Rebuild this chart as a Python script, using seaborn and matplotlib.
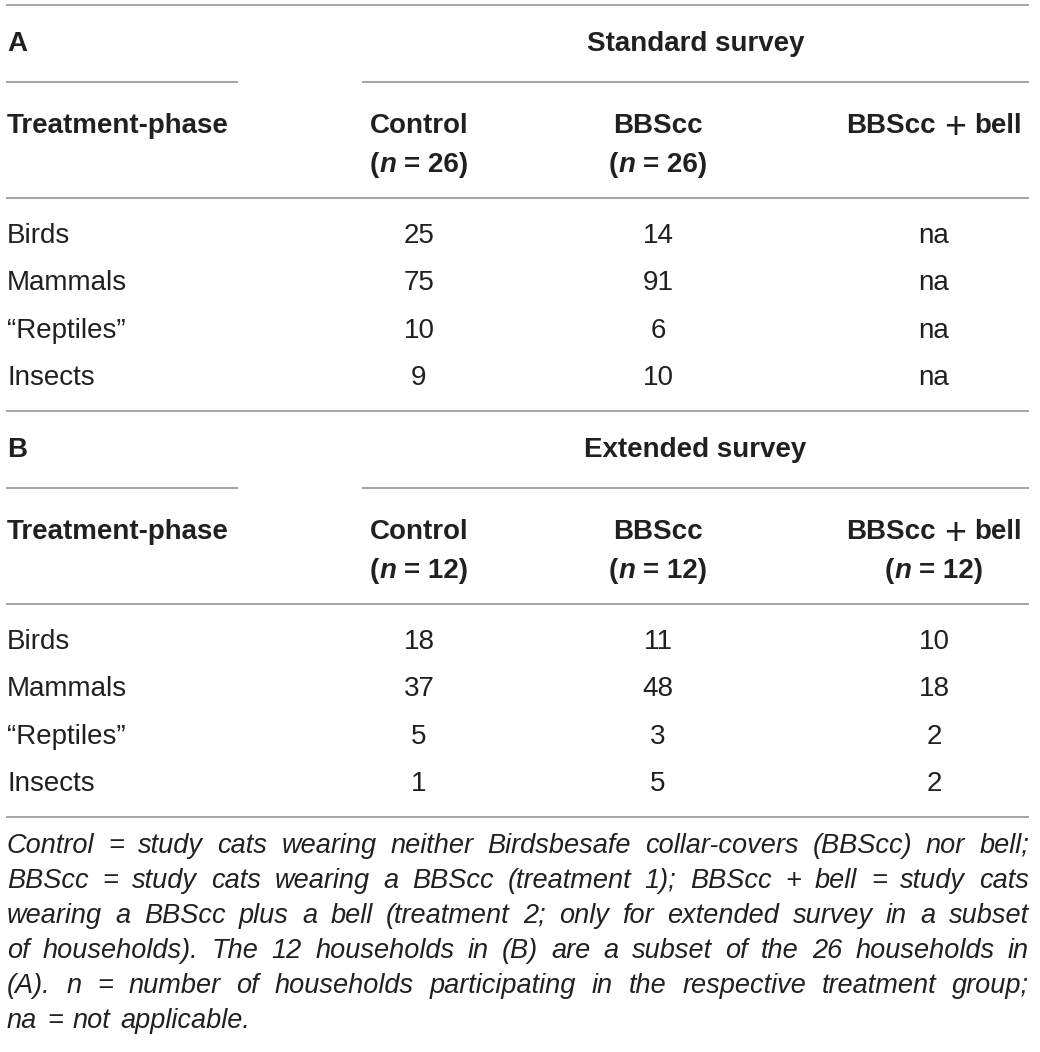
import matplotlib
matplotlib.use("Agg")
import matplotlib.pyplot as plt
import seaborn as sns

sns.set_theme(style="white")
plt.rcParams["font.family"] = ["Liberation Sans", "DejaVu Sans"]

# table content
categories = ["Birds", "Mammals", "\u201cReptiles\u201d", "Insects"]
groups = ["Control", "BBScc", "BBScc + bell"]

standard_title = "Standard survey"
standard_n = [26, 26, None]
standard_control = [25, 75, 10, 9]
standard_bbscc = [14, 91, 6, 10]
standard_bell = ["na", "na", "na", "na"]

extended_title = "Extended survey"
extended_n = [12, 12, 12]
extended_control = [18, 37, 5, 1]
extended_bbscc = [11, 48, 3, 5]
extended_bell = [10, 18, 2, 2]

footnote = [
    "Control = study cats wearing neither Birdsbesafe collar-covers (BBScc) nor bell;",
    "BBScc = study cats wearing a BBScc (treatment 1); BBScc + bell = study cats",
    "wearing a BBScc plus a bell (treatment 2; only for extended survey in a subset",
    "of households). The 12 households in (B) are a subset of the 26 households in",
    "(A). n = number of households participating in the respective treatment group;",
    "na = not applicable.",
]

INK = "#231f20"
RULE = "#8c8c8c"
FS = 20
FN = 19.5
LEFT, RIGHT = 7, 1029
col_x = [419, 658, 934]

fig = plt.figure(figsize=(10.4, 10.52), dpi=100)
ax = fig.add_axes([0, 0, 1, 1])
ax.set_xlim(0, 1040)
ax.set_ylim(1052, 0)
ax.axis("off")
renderer = fig.canvas.get_renderer()


def measure(s, **kw):
    t = ax.text(0, 0, s, **kw)
    w = t.get_window_extent(renderer).width
    t.remove()
    return w


def mixed(x, y, parts, size=FS):
    # parts: (text, style dict, size, dy); None means a space
    sp = measure("a a", fontsize=size, fontweight="bold") - measure("aa", fontsize=size, fontweight="bold")
    widths = [sp if p is None else measure(p[0], fontsize=p[2], **p[1]) for p in parts]
    x0 = x - sum(widths) / 2
    for p, w in zip(parts, widths):
        if p is not None:
            ax.text(x0, y + p[3], p[0], fontsize=p[2], color=INK, ha="left", va="baseline", **p[1])
        x0 += w


B = dict(fontweight="bold")
BI = dict(fontweight="bold", style="italic")
N = dict(fontweight="normal")


def group_label(x, y, name):
    if "+" in name:
        a, b = name.split(" + ")
        mixed(x, y, [(a, B, FS, 0), None, ("+", N, 27, 5), None, (b, B, FS, 0)])
    else:
        ax.text(x, y, name, fontsize=FS, color=INK, fontweight="bold", ha="center", va="baseline")


def section(top, letter, title, ns, cols):
    ax.hlines(top, LEFT - 1, RIGHT, color=RULE, lw=1.1)
    ax.text(LEFT, top + 46, letter, fontsize=FS, fontweight="bold", color=INK, va="baseline")
    ax.text(sum([362, RIGHT]) / 2, top + 46, title, fontsize=FS, fontweight="bold",
            color=INK, ha="center", va="baseline")
    ax.hlines(top + 77, LEFT - 1, 238, color=RULE, lw=1.1)
    ax.hlines(top + 77, 362, RIGHT, color=RULE, lw=1.1)
    ax.text(LEFT, top + 128, "Treatment-phase", fontsize=FS, fontweight="bold", color=INK, va="baseline")
    for x, g, n in zip(col_x, groups, ns):
        group_label(x, top + 128, g)
        if n is not None:
            mixed(x, top + 167, [("(", B, FS, 0), ("n", BI, FS, 0), None, (f"= {n})", B, FS, 0)])
    ax.hlines(top + 193, LEFT - 1, RIGHT, color=RULE, lw=1.1)
    for i, cat in enumerate(categories):
        y = top + 238 + i * 47.3
        ax.text(LEFT, y, cat, fontsize=FS, color=INK, va="baseline")
        for x, vals in zip(col_x, cols):
            ax.text(x, y, str(vals[i]), fontsize=FS, color=INK, ha="center", va="baseline")


section(5, "A", standard_title, standard_n, [standard_control, standard_bbscc, standard_bell])
section(411, "B", extended_title, extended_n, [extended_control, extended_bbscc, extended_bell])
ax.hlines(817, LEFT - 1, RIGHT, color=RULE, lw=1.1)

# justified italic footnote
space_w = measure("a a", fontsize=FN, style="italic") - measure("aa", fontsize=FN, style="italic")
for i, line in enumerate(footnote):
    words = line.split()
    ws = [measure(w, fontsize=FN, style="italic") for w in words]
    y = 853 + i * 35
    if i < len(footnote) - 1:
        gap = (RIGHT - LEFT - sum(ws)) / (len(words) - 1)
    else:
        gap = space_w * 1.3
    x = LEFT
    for w, wd in zip(words, ws):
        ax.text(x, y, w, fontsize=FN, style="italic", color=INK, ha="left", va="baseline")
        x += wd + gap

fig.savefig("out.png", dpi=100, facecolor="white")
